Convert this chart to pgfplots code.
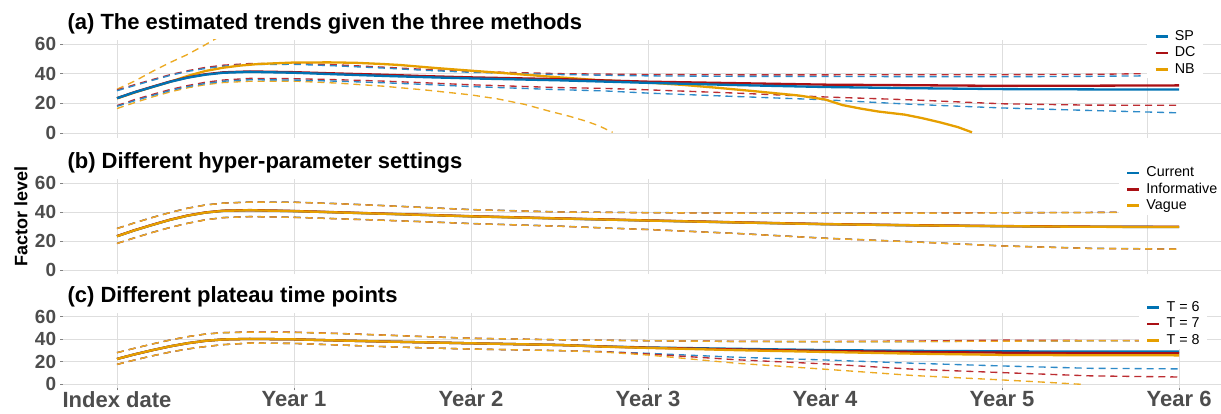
\documentclass[border=0pt]{standalone}
\usepackage{pgfplots}
\pgfplotsset{compat=1.18}
\usepackage{fontspec}
\setmainfont{Liberation Sans}
\definecolor{cblue}{RGB}{0,114,178}
\definecolor{cred}{RGB}{170,16,20}
\definecolor{corange}{RGB}{230,159,0}
\definecolor{dblue}{RGB}{45,138,200}
\definecolor{dred}{RGB}{188,45,50}
\definecolor{dorange}{RGB}{236,170,35}
\definecolor{gridgray}{RGB}{222,222,222}
\definecolor{labgray}{RGB}{77,77,77}
\tikzset{
  sl/.style={line width=2.3pt},
  dl/.style={line width=1.35pt, dash pattern=on 7pt off 5pt},
}
\pgfplotsset{
  panel/.style={
    scale only axis, width=1158pt,
    xmin=-0.305, xmax=6.237, ymin=-3, ymax=63,
    ytick={0,20,40,60},
    grid=major, major grid style={gridgray, line width=0.8pt},
    axis line style={draw=none},
    tick align=outside, major tick length=2.7pt,
    tick style={labgray!70, line width=0.8pt},
    xtick pos=bottom, ytick pos=left,
    /pgf/number format/assume math mode=true,
    yticklabel style={font=\fontsize{19}{19}\selectfont\bfseries, text=labgray, inner sep=0pt, xshift=-4pt},
    legend image code/.code={\draw[##1, line width=2.6pt, solid, opacity=1] (0pt,0pt) -- (12pt,0pt);},
    legend style={draw=none, fill=white, font=\fontsize{14.3}{17}\selectfont, inner xsep=7pt, inner ysep=2pt, row sep=2.8pt, column sep=6pt, nodes={inner sep=0pt, text height=10.6pt, text depth=3pt}, anchor=north west},
    legend cell align=left,
    every axis plot/.append style={no marks},
  },
}
\begin{document}
\begin{tikzpicture}
\path[use as bounding box] (0pt,0pt) rectangle (1221pt,-413pt);
\node[anchor=base west, font=\fontsize{22}{22}\selectfont\bfseries] at (64pt,-29pt) {(a) The estimated trends given the three methods};
\node[anchor=base west, font=\fontsize{22}{22}\selectfont\bfseries] at (64pt,-168pt) {(b) Different hyper-parameter settings};
\node[anchor=base west, font=\fontsize{22}{22}\selectfont\bfseries] at (64pt,-302pt) {(c) Different plateau time points};
\node[rotate=90, font=\fontsize{18}{18}\selectfont\bfseries] at (21pt,-216pt) {Factor level};

% ---------- panel (a)
\begin{axis}[panel, at={(63pt,-39.5pt)}, anchor=north west, height=98pt,
  xtick={0,1,2,3,4,5,5.82}, xticklabels={,,,,,,}, xtick style={draw=none},
  reverse legend, legend style={at={(0.9361,1.122)}}]
% NB dashed
\addplot[dl, dorange, forget plot] coordinates {(0,29.5)(0.1,35)(0.2,41.5)(0.3,47.5)(0.4,53)(0.5,59.5)(0.55,63)(0.6,66.5)};
\addplot[dl, dorange, forget plot] coordinates {(0,16.5)(0.1,20.5)(0.2,24.3)(0.3,27.7)(0.4,30.5)(0.5,32.6)(0.6,34)(0.75,34.9)(1.0,35.0)(1.25,33.6)(1.5,31.6)(1.75,28.9)(2.0,25.7)(2.15,23)(2.3,19.4)(2.45,14.5)(2.55,11.5)(2.65,8)(2.72,5)(2.8,0.5)};
% DC dashed
\addplot[dl, dred, forget plot] coordinates {(0,29)(0.1,32.6)(0.2,36)(0.3,39.3)(0.4,42)(0.5,44.2)(0.6,45.7)(0.75,46.8)(1.0,46.9)(1.25,45.9)(1.5,44.4)(1.75,42.8)(2.0,41.5)(2.5,40.0)(3.0,39.4)(3.5,39.2)(4.0,39.2)(4.5,39.3)(5.0,39.3)(5.5,39.5)(5.8,40.0)};
\addplot[dl, dred, forget plot] coordinates {(0,18.5)(0.1,22.5)(0.2,26)(0.3,29.3)(0.4,32)(0.5,34.2)(0.6,35.7)(0.75,36.8)(1.0,36.6)(1.25,35.9)(1.5,35.0)(1.75,33.8)(2.0,32.5)(2.5,30.6)(2.75,30.1)(3.0,29.1)(3.5,26.9)(4.0,24.3)(4.5,22.3)(5.0,19.7)(5.5,18.8)(6.0,18.7)};
% SP dashed
\addplot[dl, dblue, forget plot] coordinates {(0,28.5)(0.1,32)(0.2,35.5)(0.3,38.8)(0.4,41.5)(0.5,43.5)(0.6,45)(0.75,46.2)(1.0,46.3)(1.25,45.2)(1.5,43.8)(1.75,42.2)(2.0,40.9)(2.5,39.4)(3.0,38.5)(3.5,38.2)(4.0,38.1)(4.5,38.0)(5.0,37.9)(5.5,38.2)(5.8,38.5)};
\addplot[dl, dblue, forget plot] coordinates {(0,18.0)(0.1,21.8)(0.2,25.3)(0.3,28.6)(0.4,31.3)(0.5,33.4)(0.6,34.9)(0.75,35.9)(1.0,35.7)(1.25,34.9)(1.5,33.9)(1.75,32.7)(2.0,31.3)(2.5,29.2)(2.75,28.4)(3.0,26.9)(3.5,24.6)(4.0,22.4)(4.5,19.3)(5.0,16.9)(5.5,15.2)(6.0,13.6)};
% solids
\addplot[sl, corange] coordinates {(0,23.3)(0.1,27.3)(0.2,31)(0.3,34.5)(0.4,38.5)(0.5,41.8)(0.6,44)(0.7,45.5)(0.8,46.5)(1.0,47.5)(1.2,47.6)(1.35,47.3)(1.5,46.5)(1.6,45.8)(1.8,43.8)(2.0,42.0)(2.25,39.8)(2.5,37.5)(2.7,35.8)(3.0,34.0)(3.2,32.4)(3.4,30.4)(3.6,28.2)(3.85,25.3)(4.0,22.6)(4.1,18.8)(4.2,16.5)(4.3,14.5)(4.45,12.4)(4.55,10)(4.65,7.2)(4.75,4)(4.83,0.5)};
\addlegendentry{NB}
\addplot[sl, cred] coordinates {(0,23.5)(0.1,27.6)(0.2,31.2)(0.3,34.7)(0.4,37.5)(0.5,39.6)(0.6,40.9)(0.75,41.5)(1.0,41.0)(1.25,40.1)(1.5,39.3)(1.75,38.3)(2.0,37.5)(2.5,36.3)(3.0,34.6)(3.5,33.6)(4.0,32.6)(4.5,32.2)(5.0,31.8)(5.5,31.9)(6.0,32.1)};
\addlegendentry{DC}
\addplot[sl, cblue] coordinates {(0,23.5)(0.1,27.5)(0.2,31)(0.3,34.5)(0.4,37.3)(0.5,39.3)(0.6,40.6)(0.75,41.2)(1.0,40.6)(1.25,39.5)(1.5,38.5)(1.75,37.6)(2.0,36.8)(2.5,35.5)(3.0,33.8)(3.5,32.3)(4.0,31.0)(4.5,30.2)(5.0,29.6)(5.5,29.4)(6.0,29.3)};
\addlegendentry{SP}
\end{axis}

% ---------- panel (b)
\begin{axis}[panel, at={(63pt,-178.6pt)}, anchor=north west, height=95.8pt,
  xtick={0,1,2,3,4,5,5.82}, xticklabels={,,,,,,}, xtick style={draw=none},
  legend style={at={(0.9116,1.153)}}]
\addplot[dl, dblue, forget plot] coordinates {(0,28.7)(0.1,32.6)(0.2,36.3)(0.3,39.7)(0.4,42.7)(0.5,44.9)(0.6,46.2)(0.75,46.9)(1.0,46.8)(1.25,45.8)(1.5,44.5)(1.75,43.1)(2.0,41.7)(2.5,40.1)(3.0,39.6)(3.5,39.3)(4.0,39.2)(4.5,39.3)(5.0,39.5)(5.5,39.7)(5.75,39.9)};
\addplot[dl, dblue, forget plot] coordinates {(0,18.4)(0.1,22.3)(0.2,26.0)(0.3,29.4)(0.4,32.3)(0.5,34.7)(0.6,36.2)(0.75,36.9)(1.0,36.4)(1.25,35.4)(1.5,34.4)(1.75,33.3)(2.0,32.1)(2.5,30.3)(2.75,29.1)(3.0,28.0)(3.5,25.3)(4.0,22.0)(4.5,19.5)(5.0,16.7)(5.5,15.0)(6.0,14.5)};
\addplot[dl, dred, forget plot] coordinates {(0,28.6)(0.1,32.5)(0.2,36.2)(0.3,39.6)(0.4,42.6)(0.5,44.8)(0.6,46.1)(0.75,46.8)(1.0,46.7)(1.25,45.7)(1.5,44.4)(1.75,43.0)(2.0,41.6)(2.5,40.0)(3.0,39.5)(3.5,39.2)(4.0,39.1)(4.5,39.3)(5.0,39.5)(5.5,39.7)(5.75,39.9)};
\addplot[dl, dred, forget plot] coordinates {(0,18.3)(0.1,22.2)(0.2,25.9)(0.3,29.3)(0.4,32.2)(0.5,34.6)(0.6,36.1)(0.75,36.8)(1.0,36.3)(1.25,35.3)(1.5,34.3)(1.75,33.2)(2.0,32.0)(2.5,30.2)(2.75,29.0)(3.0,27.9)(3.5,25.2)(4.0,21.9)(4.5,19.4)(5.0,16.6)(5.5,14.9)(6.0,14.4)};
\addplot[dl, dorange, forget plot] coordinates {(0,28.6)(0.1,32.5)(0.2,36.2)(0.3,39.6)(0.4,42.6)(0.5,44.8)(0.6,46.1)(0.75,46.8)(1.0,46.7)(1.25,45.7)(1.5,44.4)(1.75,43.0)(2.0,41.6)(2.5,40.0)(3.0,39.5)(3.5,39.2)(4.0,39.1)(4.5,39.2)(5.0,39.4)(5.5,39.6)(5.75,39.8)};
\addplot[dl, dorange, forget plot] coordinates {(0,18.3)(0.1,22.2)(0.2,25.9)(0.3,29.3)(0.4,32.2)(0.5,34.6)(0.6,36.1)(0.75,36.8)(1.0,36.3)(1.25,35.3)(1.5,34.3)(1.75,33.2)(2.0,32.0)(2.5,30.2)(2.75,29.0)(3.0,27.9)(3.5,25.2)(4.0,21.9)(4.5,19.4)(5.0,16.6)(5.5,14.9)(6.0,14.4)};
\addplot[sl, cblue] coordinates {(0,23.3)(0.1,27.4)(0.2,31.1)(0.3,34.6)(0.4,37.5)(0.5,39.6)(0.6,40.8)(0.75,41.2)(1.0,40.6)(1.25,39.7)(1.5,38.8)(1.75,37.9)(2.0,37.0)(2.5,35.5)(3.0,34.1)(3.5,32.8)(4.0,31.6)(4.5,30.8)(5.0,30.2)(5.5,29.8)(6.0,29.7)};
\addlegendentry{Current}
\addplot[sl, cred] coordinates {(0,23.4)(0.1,27.5)(0.2,31.2)(0.3,34.7)(0.4,37.6)(0.5,39.7)(0.6,40.9)(0.75,41.3)(1.0,40.7)(1.25,39.8)(1.5,38.9)(1.75,38.0)(2.0,37.1)(2.5,35.6)(3.0,34.2)(3.5,32.9)(4.0,31.7)(4.5,30.9)(5.0,30.3)(5.5,29.9)(6.0,29.8)};
\addlegendentry{Informative}
\addplot[sl, corange] coordinates {(0,23.3)(0.1,27.4)(0.2,31.1)(0.3,34.6)(0.4,37.5)(0.5,39.6)(0.6,40.8)(0.75,41.2)(1.0,40.6)(1.25,39.7)(1.5,38.8)(1.75,37.9)(2.0,37.0)(2.5,35.5)(3.0,34.1)(3.5,32.8)(4.0,31.6)(4.5,30.8)(5.0,30.2)(5.5,29.8)(6.0,29.6)};
\addlegendentry{Vague}
\end{axis}

% ---------- panel (c)
\begin{axis}[panel, at={(63pt,-313.3pt)}, anchor=north west, height=74.4pt,
  xtick={0,1,2,3,4,5,6}, xticklabels={Index date,Year 1,Year 2,Year 3,Year 4,Year 5,Year 6},
  xticklabel style={font=\fontsize{22}{22}\selectfont\bfseries, text=labgray, inner sep=1pt},
  legend style={at={(0.929,1.195)}}]
\addplot[dl, dblue, forget plot] coordinates {(0,28.1)(0.1,32)(0.2,35.8)(0.3,39.3)(0.4,42.3)(0.5,44.6)(0.6,45.8)(0.75,46.3)(1.0,46.1)(1.25,45)(1.5,43.7)(1.75,42.2)(2.0,40.8)(2.5,39.5)(3.0,38.7)(3.5,38.0)(4.0,37.8)(4.5,37.9)(5.0,38.4)(5.5,38.6)(5.78,38.7)};
\addplot[dl, dblue, forget plot] coordinates {(0,17.7)(0.1,21.6)(0.2,25.3)(0.3,28.6)(0.4,31.4)(0.5,33.5)(0.6,35.2)(0.75,36.6)(1.0,36.3)(1.25,34.9)(1.5,33.5)(1.75,32.3)(2.0,31.3)(2.5,29.9)(2.75,29.0)(3.0,27.5)(3.5,24.0)(4.0,21.6)(4.5,18.7)(5.0,16.3)(5.5,14.2)(6.0,13.7)};
\addplot[dl, dred, forget plot] coordinates {(0,28.1)(0.1,32)(0.2,35.8)(0.3,39.3)(0.4,42.3)(0.5,44.6)(0.6,45.9)(0.75,46.5)(1.0,46.3)(1.25,45.2)(1.5,43.8)(1.75,42.3)(2.0,40.9)(2.5,39.5)(3.0,38.7)(3.5,38.1)(4.0,38.0)(4.5,38.4)(5.0,39.2)(5.5,38.9)(5.78,38.8)};
\addplot[dl, dred, forget plot] coordinates {(0,17.7)(0.1,21.6)(0.2,25.3)(0.3,28.6)(0.4,31.4)(0.5,33.5)(0.6,35.2)(0.75,36.6)(1.0,36.3)(1.25,34.9)(1.5,33.5)(1.75,32.3)(2.0,31.3)(2.5,29.9)(2.75,28.9)(3.0,26.9)(3.5,21.8)(4.0,18.1)(4.5,13.4)(5.0,10.4)(5.5,7.5)(6.0,6.5)};
\addplot[dl, dorange, forget plot] coordinates {(0,28.1)(0.1,32)(0.2,35.8)(0.3,39.3)(0.4,42.3)(0.5,44.6)(0.6,45.8)(0.75,46.3)(1.0,46.1)(1.25,45)(1.5,43.7)(1.75,42.2)(2.0,40.8)(2.5,39.5)(3.0,38.7)(3.5,38.0)(4.0,37.8)(4.5,37.9)(5.0,38.3)(5.5,38.6)(5.78,38.7)};
\addplot[dl, dorange, forget plot] coordinates {(0,17.7)(0.1,21.6)(0.2,25.3)(0.3,28.6)(0.4,31.4)(0.5,33.5)(0.6,35.2)(0.75,36.6)(1.0,36.3)(1.25,34.9)(1.5,33.5)(1.75,32.3)(2.0,31.3)(2.5,29.9)(2.75,28.6)(3.0,26.0)(3.5,18.7)(4.0,13.4)(4.5,7.8)(5.0,3.9)(5.25,1.8)(5.45,0.0)};
\addplot[sl, cblue] coordinates {(0,22.5)(0.1,26.6)(0.2,30.3)(0.3,33.7)(0.4,36.5)(0.5,38.6)(0.6,39.8)(0.75,40.3)(1.0,39.9)(1.25,38.9)(1.5,38.0)(1.75,37.2)(2.0,36.4)(2.5,34.9)(2.75,33.6)(3.0,32.7)(3.5,31.5)(4.0,30.4)(4.5,29.7)(5.0,29.3)(5.5,29.0)(6.0,29.0)};
\addlegendentry{T = 6}
\addplot[sl, cred] coordinates {(0,22.5)(0.1,26.6)(0.2,30.3)(0.3,33.7)(0.4,36.5)(0.5,38.6)(0.6,39.8)(0.75,40.3)(1.0,39.9)(1.25,38.9)(1.5,38.0)(1.75,37.2)(2.0,36.4)(2.5,34.9)(2.75,33.5)(3.0,32.5)(3.5,30.9)(4.0,29.6)(4.5,28.7)(5.0,28.1)(5.5,27.7)(6.0,27.5)};
\addlegendentry{T = 7}
\addplot[sl, corange] coordinates {(0,22.5)(0.1,26.6)(0.2,30.3)(0.3,33.7)(0.4,36.5)(0.5,38.6)(0.6,39.8)(0.75,40.3)(1.0,39.9)(1.25,38.9)(1.5,38.0)(1.75,37.2)(2.0,36.4)(2.5,34.9)(2.75,33.4)(3.0,32.3)(3.5,30.3)(4.0,28.7)(4.5,27.2)(5.0,26.1)(5.5,25.8)(6.0,25.7)};
\addlegendentry{T = 8}
\end{axis}
\end{tikzpicture}
\end{document}
